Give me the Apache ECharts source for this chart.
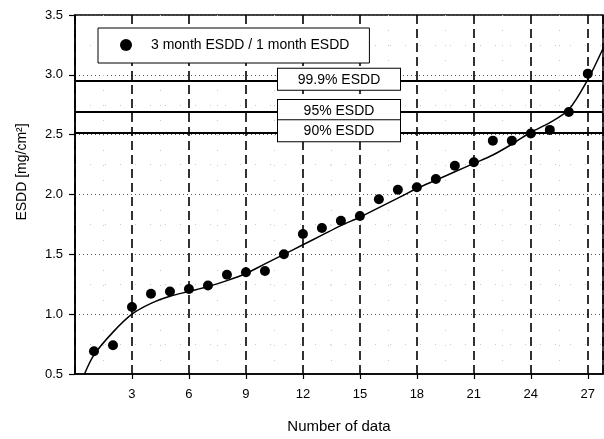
<!DOCTYPE html>
<html>
<head>
<meta charset="utf-8">
<title>ESDD ratio</title>
<script src="https://cdn.jsdelivr.net/npm/echarts@6/dist/echarts.min.js"></script>
<style>
  html, body { margin: 0; padding: 0; background: #fff; }
  #chart { width: 604px; height: 439px; }
</style>
</head>
<body>
<div id="chart"></div>
<script>
// Measured samples, ordered by rank
const sampleNo = [1, 2, 3, 4, 5, 6, 7, 8, 9, 10, 11, 12, 13, 14, 15, 16, 17, 18, 19, 20, 21, 22, 23, 24, 25, 26, 27];
const esddRatio = [0.69, 0.74, 1.06, 1.17, 1.19, 1.21, 1.24, 1.33, 1.35, 1.36, 1.50, 1.67, 1.72, 1.78, 1.82,
                   1.96, 2.04, 2.06, 2.13, 2.24, 2.27, 2.45, 2.45, 2.51, 2.54, 2.69, 3.01];

// Fitted trend curve, sampled along the rank axis
const fitX = [0.5, 1, 2, 3, 4, 5, 6, 7, 8, 9, 10, 11, 12, 13, 14, 15, 16, 17, 18, 19, 20, 21, 22, 23, 24, 25, 26, 27, 27.8];
const fitY = [0.50, 0.66, 0.85, 1.00, 1.09, 1.15, 1.19, 1.23, 1.28, 1.34, 1.42, 1.50, 1.58, 1.66, 1.74, 1.81, 1.89,
              1.97, 2.05, 2.12, 2.19, 2.26, 2.33, 2.42, 2.52, 2.60, 2.71, 2.96, 3.22];

// Percentile design levels
const levelNames = ['99.9% ESDD', '95% ESDD', '90% ESDD'];
const levelValues = [2.95, 2.69, 2.52];

const seriesName = '3 month ESDD / 1 month ESDD';
const xTickStep = 3;
const yTickStep = 0.5;

const FONT = '"Liberation Sans", Arial, Helvetica, sans-serif';

const chart = echarts.init(document.getElementById('chart'), null, { renderer: 'canvas' });

const levelLines = levelNames.map((name, i) => ({
  yAxis: levelValues[i],
  label: { formatter: name }
}));

chart.setOption({
  animation: false,
  backgroundColor: '#fff',
  textStyle: { fontFamily: FONT, color: '#000' },
  grid: {
    left: 75, right: 1, top: 15, bottom: 62,
    show: true, borderColor: '#000', borderWidth: 1.5, backgroundColor: 'transparent'
  },
  legend: {
    data: [seriesName],
    left: 98, top: 28,
    padding: [10, 20, 11, 22],
    backgroundColor: '#fff',
    borderColor: '#000', borderWidth: 1,
    itemWidth: 12, itemHeight: 12,
    itemStyle: { opacity: 1 },
    textStyle: { fontFamily: FONT, fontSize: 14, color: '#000', padding: [0, 0, 0, 14] }
  },
  xAxis: {
    type: 'value',
    min: 0, max: 27.8, interval: xTickStep,
    name: 'Number of data',
    nameLocation: 'middle',
    nameGap: 45,
    nameTextStyle: { fontFamily: FONT, fontSize: 15, color: '#000' },
    axisLine: { show: true, lineStyle: { color: '#000', width: 1.5 } },
    axisTick: { show: true, inside: false, length: 5, lineStyle: { color: '#000', width: 1.2 } },
    axisLabel: {
      fontFamily: FONT, fontSize: 13, color: '#000', margin: 14,
      showMinLabel: false, showMaxLabel: false,
      formatter: v => (v > 0 && v % xTickStep === 0) ? String(v) : ''
    },
    splitLine: { show: true, lineStyle: { color: '#000', width: 1.6, type: [9, 5] } },
    minorTick: { show: false, splitNumber: 2 },
    minorSplitLine: { show: true, lineStyle: { color: '#c8c8c8', width: 1, type: [1, 14] } }
  },
  yAxis: {
    type: 'value',
    min: 0.5, max: 3.5, interval: yTickStep,
    axisLine: { show: true, lineStyle: { color: '#000', width: 1.5 } },
    axisTick: { show: true, inside: false, length: 6, lineStyle: { color: '#000', width: 1.2 } },
    axisLabel: {
      fontFamily: FONT, fontSize: 13, color: '#000', margin: 12,
      formatter: v => v.toFixed(1)
    },
    splitLine: { show: true, lineStyle: { color: '#555', width: 1, type: [1, 3] } },
    minorTick: { show: false, splitNumber: 2 },
    minorSplitLine: { show: true, lineStyle: { color: '#c8c8c8', width: 1, type: [1, 14] } }
  },
  graphic: [{
    type: 'text',
    x: 22, y: 172,
    rotation: Math.PI / 2,
    style: {
      text: 'ESDD [mg/cm²]',
      font: '14px ' + FONT,
      fill: '#000',
      textAlign: 'center',
      textVerticalAlign: 'middle'
    }
  }],
  series: [
    {
      name: 'fit',
      type: 'line',
      data: fitX.map((x, i) => [x, fitY[i]]),
      smooth: 0.3,
      showSymbol: false,
      symbol: 'none',
      lineStyle: { color: '#000', width: 1.5 },
      silent: true,
      z: 3
    },
    {
      name: seriesName,
      type: 'scatter',
      data: sampleNo.map((n, i) => [n, esddRatio[i]]),
      symbol: 'circle',
      symbolSize: 10,
      itemStyle: { color: '#000', opacity: 1 },
      z: 4,
      markLine: {
        silent: true,
        symbol: 'none',
        lineStyle: { color: '#000', width: 2, type: 'solid' },
        label: {
          show: true,
          position: 'middle',
          offset: [0, 14],
          fontFamily: FONT,
          fontSize: 14,
          color: '#000',
          backgroundColor: '#fff',
          borderColor: '#000',
          borderWidth: 1,
          width: 88,
          align: 'center',
          padding: [4, 17, 3, 17]
        },
        data: levelLines
      }
    }
  ]
});
</script>
</body>
</html>
